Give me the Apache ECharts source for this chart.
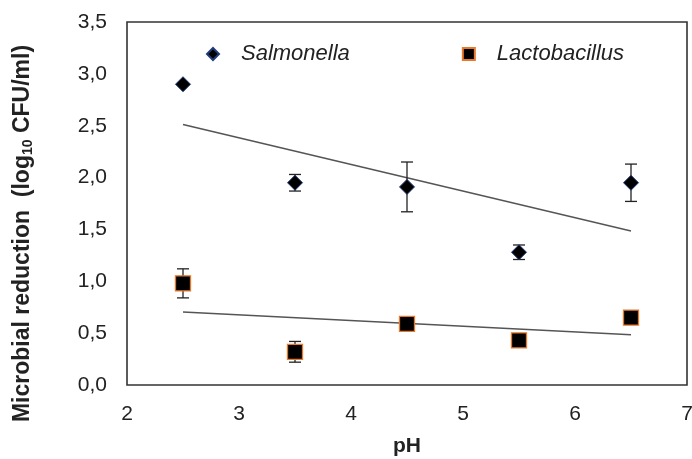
<!DOCTYPE html>
<html><head><meta charset="utf-8">
<script src="https://cdn.jsdelivr.net/npm/echarts@6/dist/echarts.min.js"></script>
<style>html,body{margin:0;padding:0;background:#fff}#c{width:692px;height:459px}</style>
</head><body><div id="c"></div>
<script>
var pH = [2.5, 3.5, 4.5, 5.5, 6.5];
var salmonella = [2.90, 1.95, 1.91, 1.28, 1.95];
var salmonellaErr = [0.0, 0.08, 0.24, 0.07, 0.18];
var lacto = [0.98, 0.32, 0.59, 0.43, 0.65];
var lactoErr = [0.14, 0.10, 0.0, 0.0, 0.0];
var yTicks = ['0,0','0,5','1,0','1,5','2,0','2,5','3,0','3,5'];
var xTicks = ['2','3','4','5','6','7'];

function fit(xs, ys){
  var n=xs.length, mx=0, my=0;
  for(var i=0;i<n;i++){mx+=xs[i];my+=ys[i];}
  mx/=n; my/=n;
  var sxy=0,sxx=0;
  for(var i=0;i<n;i++){sxy+=(xs[i]-mx)*(ys[i]-my);sxx+=(xs[i]-mx)*(xs[i]-mx);}
  var b=sxy/sxx, a=my-b*mx;
  var x0=xs[0], x1=xs[n-1];
  return [[x0,a+b*x0],[x1,a+b*x1]];
}
function pairs(xs, ys){return xs.map(function(x,i){return [x, ys[i]];});}
function errData(xs, ys, es){return xs.map(function(x,i){return [x, ys[i], es[i]];});}

function errRender(params, api){
  var x=api.value(0), y=api.value(1), e=api.value(2);
  if(!e) return;
  var hi=api.coord([x,y+e]), lo=api.coord([x,y-e]);
  var w=6;
  var st={stroke:'#222',lineWidth:1.3};
  return {type:'group',children:[
    {type:'line',shape:{x1:hi[0],y1:hi[1],x2:lo[0],y2:lo[1]},style:st},
    {type:'line',shape:{x1:hi[0]-w,y1:hi[1],x2:hi[0]+w,y2:hi[1]},style:st},
    {type:'line',shape:{x1:lo[0]-w,y1:lo[1],x2:lo[0]+w,y2:lo[1]},style:st}
  ]};
}

var FF='Liberation Sans, Arial, sans-serif';
var chart = echarts.init(document.getElementById('c'));
chart.setOption({
  animation:false,
  textStyle:{fontFamily:FF},
  grid:{left:127,right:5,top:22,bottom:74,show:true,borderColor:'#333',borderWidth:1.6,backgroundColor:'#fff',
        containLabel:false,outerBoundsMode:'none'},
  legend:{
    left:201, top:38, itemGap:112, itemWidth:12, itemHeight:12,
    textStyle:{fontSize:22,fontStyle:'italic',color:'#222',fontFamily:FF,padding:[0,0,0,17]},
    data:[{name:'Salmonella',icon:'diamond'},{name:'Lactobacillus',icon:'rect'}]
  },
  xAxis:{
    type:'value', min:2, max:7, interval:1,
    axisLine:{show:false}, axisTick:{show:false}, splitLine:{show:false},
    axisLabel:{fontSize:21,color:'#222',margin:19,formatter:function(v){return xTicks[Math.round(v-2)];}},
    name:'pH', nameLocation:'middle', nameGap:51,
    nameTextStyle:{fontSize:21,fontWeight:'bold',color:'#222'}
  },
  yAxis:{
    type:'value', min:0, max:3.5, interval:0.5,
    axisLine:{show:false}, axisTick:{show:false}, splitLine:{show:false},
    axisLabel:{fontSize:21,color:'#222',margin:20,formatter:function(v){return yTicks[Math.round(v/0.5)];}},
    name:'{a|Microbial reduction  (log}{s|10}{a| CFU/ml)}', nameLocation:'middle', nameGap:92,
    nameTextStyle:{padding:[0,60,0,0],rich:{
      a:{fontSize:23,fontWeight:'bold',color:'#222',fontFamily:FF},
      s:{fontSize:14,fontWeight:'bold',color:'#222',padding:[10,0,0,0],fontFamily:FF}
    }}
  },
  series:[
    {type:'line',data:fit(pH,salmonella),symbol:'none',lineStyle:{color:'#555',width:1.5},silent:true,z:1},
    {type:'line',data:fit(pH,lacto),symbol:'none',lineStyle:{color:'#555',width:1.5},silent:true,z:1},
    {type:'custom',renderItem:errRender,data:errData(pH,salmonella,salmonellaErr),z:2},
    {type:'custom',renderItem:errRender,data:errData(pH,lacto,lactoErr),z:2},
    {name:'Salmonella',type:'scatter',symbol:'diamond',symbolSize:15,data:pairs(pH,salmonella),
      itemStyle:{color:'#000',borderColor:'#1f3a7a',borderWidth:1,opacity:1},z:3},
    {name:'Lactobacillus',type:'scatter',symbol:'rect',symbolSize:15,data:pairs(pH,lacto),
      itemStyle:{color:'#000',borderColor:'#e8782a',borderWidth:1.3,opacity:1},z:3}
  ]
});
</script></body></html>
